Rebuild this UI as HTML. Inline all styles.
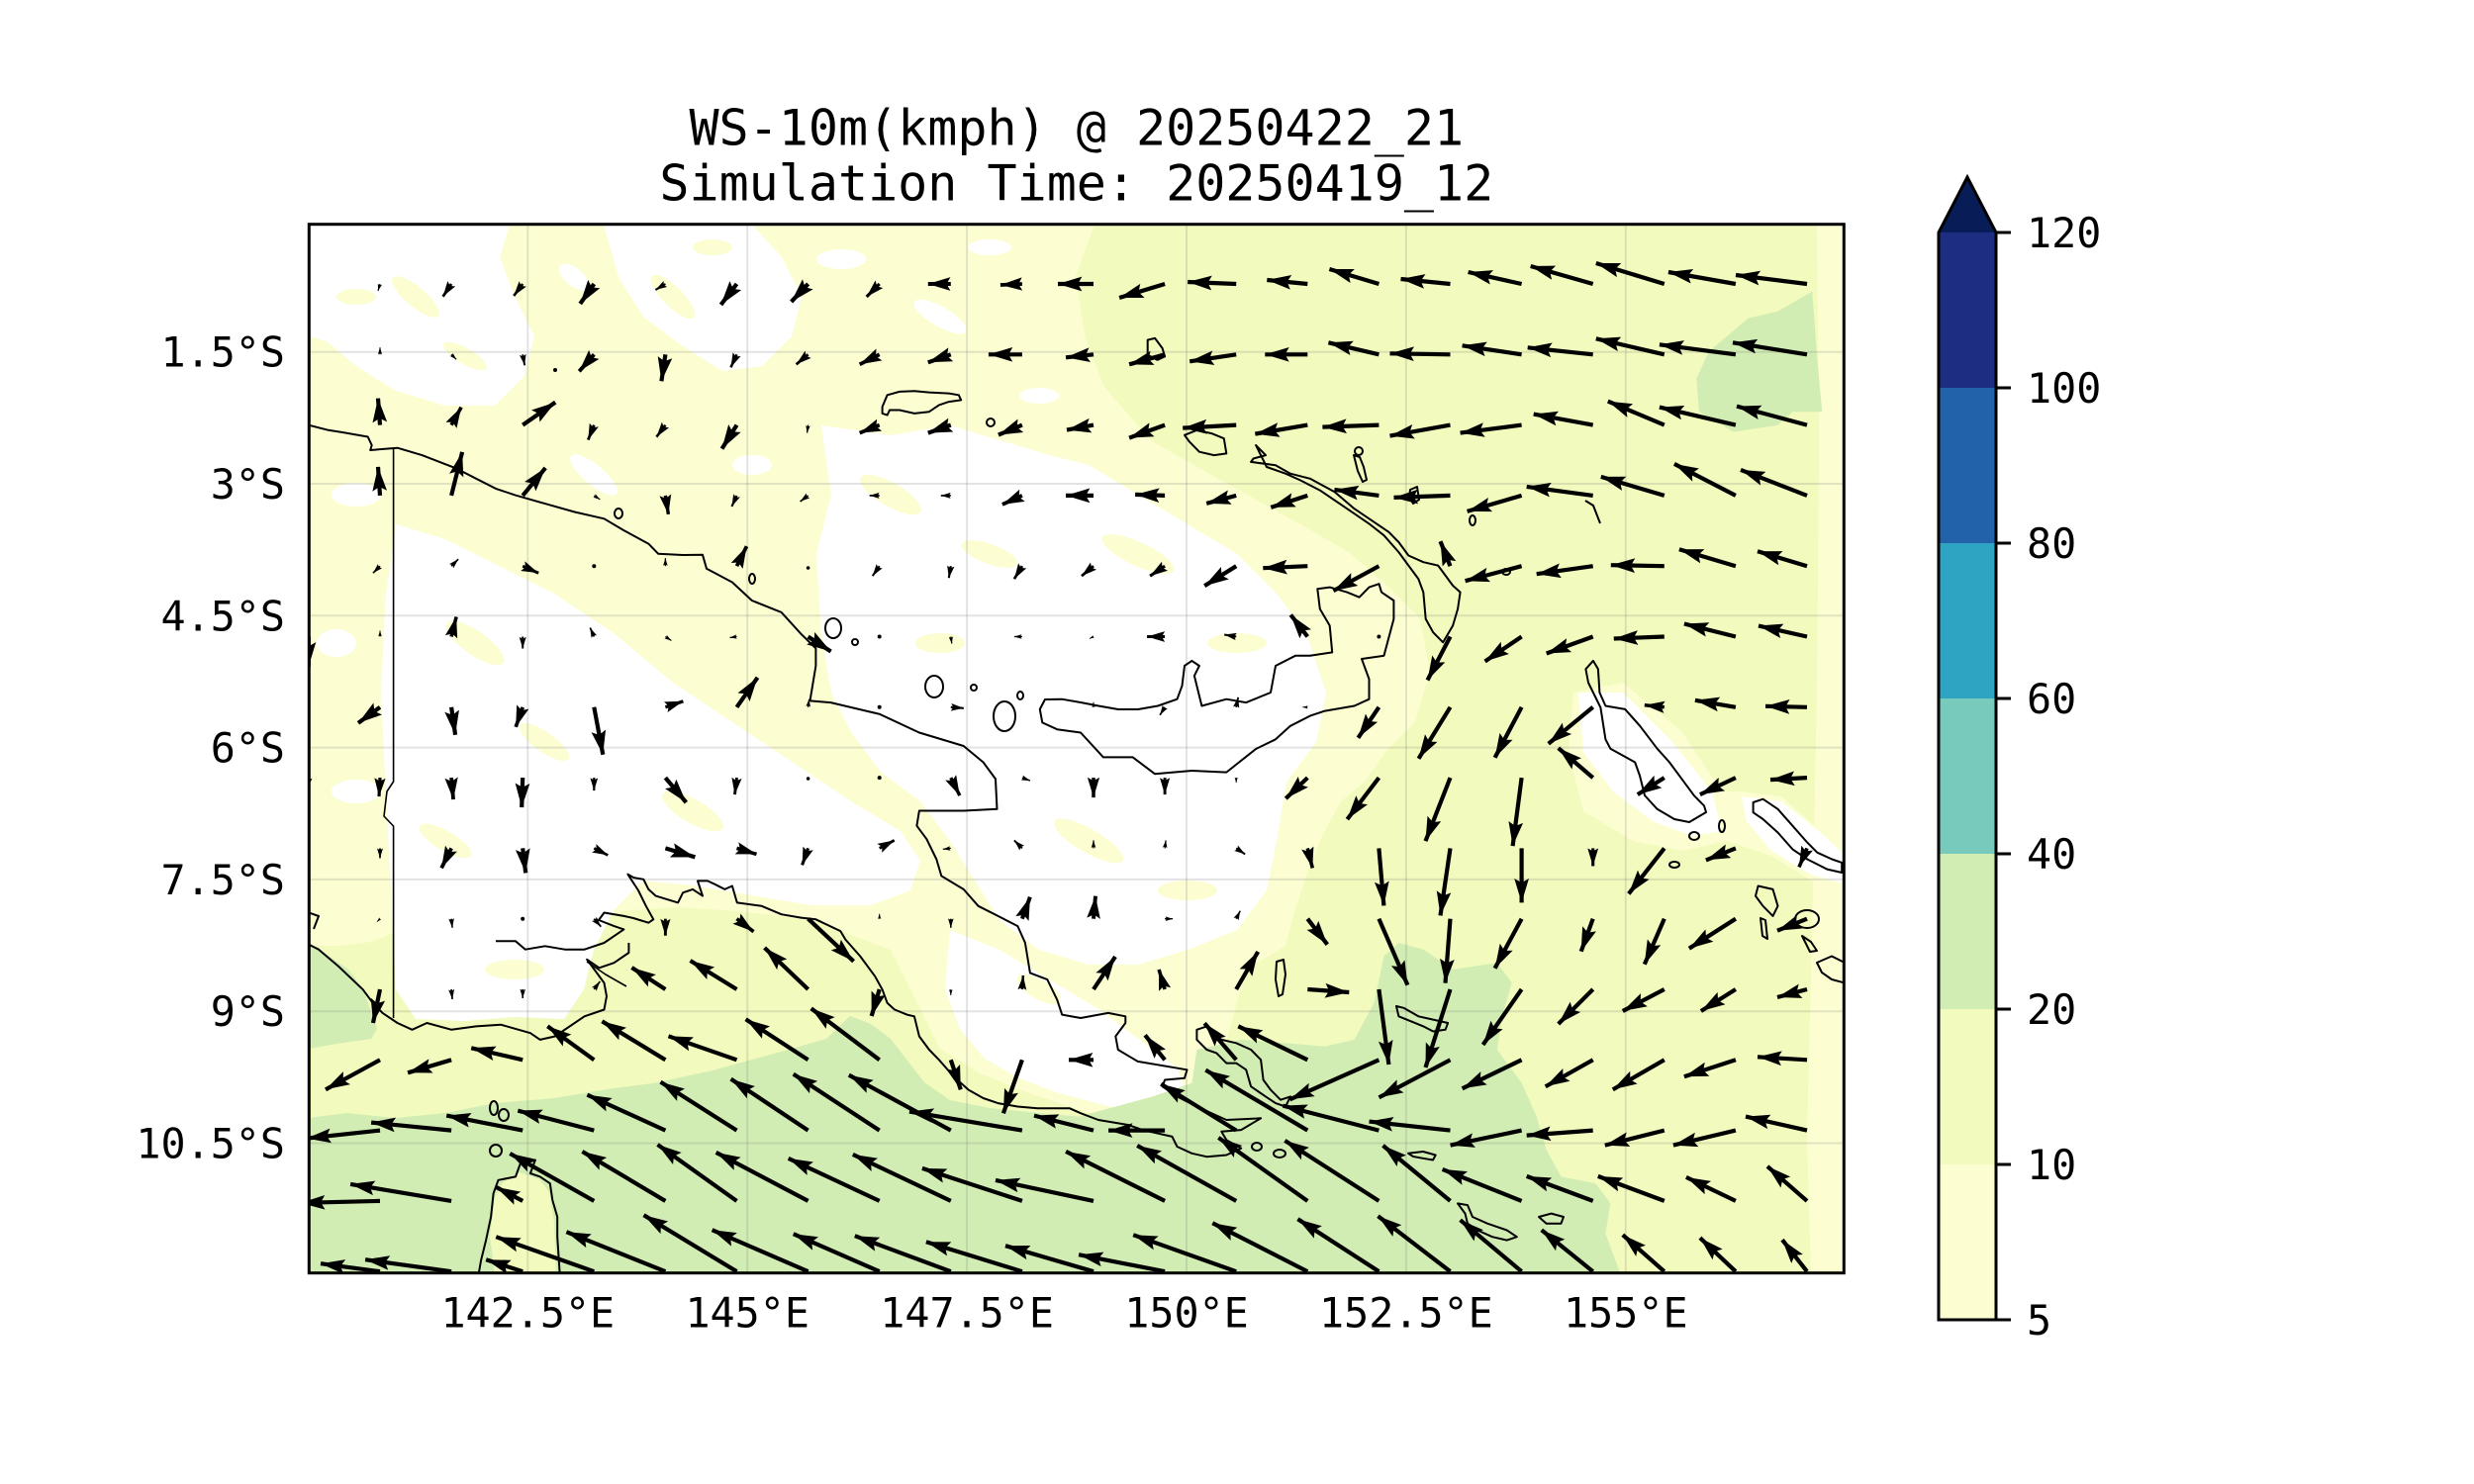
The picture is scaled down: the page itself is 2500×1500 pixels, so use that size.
<!DOCTYPE html>
<html><head><meta charset="utf-8"><style>html,body{margin:0;padding:0;background:#fff}svg{display:block}</style></head>
<body>
<svg width="2500" height="1500" viewBox="0 0 2500 1500" xmlns="http://www.w3.org/2000/svg">
<defs>
<clipPath id="pc"><rect x="312.3" y="226.7" width="1551" height="1060"/></clipPath>
<marker id="h" viewBox="0 -1.75 5.8 3.5" refX="5.8" refY="0" markerWidth="5.8" markerHeight="3.5" markerUnits="strokeWidth" orient="auto" overflow="visible"><path d="M5.8,0 L0,-1.75 L0.7,-0.5 L0.7,0.5 L0,1.75 Z" fill="#000" stroke="none"/></marker>
</defs>
<rect width="2500" height="1500" fill="#fff"/>
<g clip-path="url(#pc)">
<rect x="312.3" y="226.7" width="1551" height="1060" fill="#f2fabd"/>
<polygon fill="#fcfed2" points="312,227 1106,227 1087,279 1097,343 1116,391 1164,446 1235,486 1307,526 1363,558 1400,590 1435,625 1445,680 1430,730 1400,760 1379,790 1355,810 1336,845 1320,885 1307,925 1299,956 1259,980 1240,1050 1210,1110 1160,1135 1100,1125 1040,1105 990,1085 950,1060 925,1010 900,960 860,945 829,932 781,925 733,920 685,917 638,920 590,929 542,940 494,944 446,937 406,940 375,952 343,956 312,956"/>
<polygon fill="#fcfed2" points="1590,700 1640,690 1700,740 1740,800 1760,800 1800,805 1840,840 1863,860 1863,900 1830,890 1790,865 1745,850 1700,860 1650,850 1600,820 1585,760"/>
<polygon fill="#fcfed2" points="1836,227 1863,227 1863,1287 1830,1287 1826,1150 1832,900 1836,700 1838,450"/>
<polygon fill="#fcfed2" points="525,1180 545,1190 555,1200 560,1230 563,1287 500,1287 493,1250 498,1210 505,1192"/>
<g fill="#ffffff">
<polygon points="312,227 515,227 505,260 520,300 540,340 530,380 500,410 450,410 400,395 360,370 330,345 312,340"/>
<polygon points="610,227 760,227 790,260 810,300 800,340 770,370 730,375 690,350 650,320 625,280"/>
<polygon points="830,430 900,440 960,430 1010,445 1060,460 1100,470 1150,500 1200,530 1250,560 1290,600 1320,640 1340,700 1330,750 1300,790 1290,850 1280,900 1250,940 1200,960 1150,975 1100,975 1050,960 1010,930 985,890 960,850 930,810 890,780 860,740 840,700 830,640 825,560 840,500"/>
<polygon points="400,530 450,545 500,570 560,600 620,640 680,690 740,730 800,770 860,810 910,840 930,870 920,900 880,915 820,915 760,905 700,895 650,890 620,920 600,960 590,1000 570,1030 520,1028 470,1032 420,1030 400,1000 395,900 390,800 385,700 390,600"/>
<polygon points="960,940 1010,960 1060,990 1110,1020 1150,1050 1190,1080 1200,1110 1170,1125 1120,1118 1070,1105 1030,1090 995,1070 970,1040 955,1000"/>
<polygon points="1595,700 1640,700 1690,750 1730,800 1740,840 1710,845 1670,830 1630,800 1600,760"/>
<polygon points="1760,805 1800,810 1840,842 1862,862 1862,893 1830,884 1790,860 1765,830"/>
<ellipse cx="360" cy="500" rx="25" ry="12"/><ellipse cx="340" cy="650" rx="20" ry="14"/><ellipse cx="360" cy="800" rx="25" ry="12"/>
<ellipse cx="600" cy="480" rx="30" ry="10" transform="rotate(40 600 480)"/><ellipse cx="850" cy="262" rx="25" ry="10"/>
<ellipse cx="950" cy="320" rx="30" ry="10" transform="rotate(30 950 320)"/><ellipse cx="1050" cy="400" rx="20" ry="8"/><ellipse cx="760" cy="470" rx="20" ry="10"/>
<ellipse cx="580" cy="280" rx="18" ry="9" transform="rotate(40 580 280)"/><ellipse cx="1000" cy="250" rx="22" ry="8"/>
</g>
<g fill="#fcfed2">
<ellipse cx="420" cy="300" rx="30" ry="10" transform="rotate(40 420 300)"/><ellipse cx="470" cy="360" rx="25" ry="8" transform="rotate(30 470 360)"/><ellipse cx="360" cy="300" rx="20" ry="8"/>
<ellipse cx="680" cy="300" rx="30" ry="10" transform="rotate(45 680 300)"/><ellipse cx="720" cy="250" rx="20" ry="8"/>
<ellipse cx="900" cy="500" rx="35" ry="12" transform="rotate(30 900 500)"/><ellipse cx="1000" cy="560" rx="30" ry="10" transform="rotate(20 1000 560)"/>
<ellipse cx="1150" cy="560" rx="40" ry="12" transform="rotate(25 1150 560)"/><ellipse cx="1250" cy="650" rx="30" ry="10"/><ellipse cx="950" cy="650" rx="25" ry="10"/>
<ellipse cx="1100" cy="850" rx="40" ry="12" transform="rotate(30 1100 850)"/><ellipse cx="1200" cy="900" rx="30" ry="10"/>
<ellipse cx="480" cy="650" rx="35" ry="12" transform="rotate(35 480 650)"/><ellipse cx="550" cy="750" rx="30" ry="10" transform="rotate(35 550 750)"/>
<ellipse cx="450" cy="850" rx="30" ry="10" transform="rotate(30 450 850)"/><ellipse cx="700" cy="820" rx="35" ry="12" transform="rotate(30 700 820)"/>
<ellipse cx="520" cy="980" rx="30" ry="10"/><ellipse cx="1050" cy="1000" rx="25" ry="10" transform="rotate(30 1050 1000)"/>
</g>
<g fill="#d1edb3">
<polygon points="312,953 332,966 352,980 367,1000 374,1020 381,1040 375,1050 340,1055 312,1060"/>
<polygon points="312,1130 350,1125 400,1130 450,1125 500,1115 560,1110 620,1100 660,1095 720,1082 760,1071 800,1060 835,1050 859,1027 880,1035 900,1050 934,1094 960,1112 1000,1120 1050,1125 1090,1128.6 1164.6,1108.4 1204.4,1094.8 1209.4,1061 1254.2,1050.9 1299,1054.3 1338.8,1057.7 1368.6,1050.9 1388.5,1013.8 1398.5,966.5 1413.4,953 1438.3,959.7 1468.1,980 1512.9,973.2 1527.8,993.5 1517.9,1027.3 1512.9,1061 1537.8,1094.8 1552.7,1128.6 1562.6,1162.4 1577.6,1189.4 1612.4,1196.2 1627.3,1216.4 1622.4,1246.9 1637.3,1287 312,1287"/>
<polygon points="1766.6,321.6 1796.5,314.8 1831.3,294.6 1836.3,362.1 1841.3,416.2 1811.4,416.2 1796.5,429.7 1751.7,436.5 1716.9,416.2 1714.4,382.4 1726.8,355.4"/>
</g>
<polygon fill="#f2fabd" points="525,1185 545,1192 555,1205 560,1235 562,1287 500,1287 495,1250 500,1210 508,1195"/>
<g stroke="#808080" stroke-opacity="0.22" stroke-width="2">
<line x1="312" y1="355.7" x2="1864" y2="355.7"/><line x1="312" y1="489" x2="1864" y2="489"/><line x1="312" y1="622.3" x2="1864" y2="622.3"/><line x1="312" y1="755.6" x2="1864" y2="755.6"/><line x1="312" y1="888.9" x2="1864" y2="888.9"/><line x1="312" y1="1022.2" x2="1864" y2="1022.2"/><line x1="312" y1="1155.5" x2="1864" y2="1155.5"/>
<line x1="533.3" y1="227" x2="533.3" y2="1287"/><line x1="755.2" y1="227" x2="755.2" y2="1287"/><line x1="977.1" y1="227" x2="977.1" y2="1287"/><line x1="1199" y1="227" x2="1199" y2="1287"/><line x1="1420.9" y1="227" x2="1420.9" y2="1287"/><line x1="1642.8" y1="227" x2="1642.8" y2="1287"/>
</g>
<g fill="none" stroke="#000" stroke-width="2" stroke-linejoin="round">
<path d="M312,429.7 L331.9,434.8 L346.8,437.1 L371.7,441.5 L375.7,450 L374.2,455 L401.6,452.7 L426.4,460.1 L461.3,473.6 L481.2,483.8 L501,493.9 L520.9,500.6 L550.8,509.1 L580.7,517.5 L610.5,524.3 L630.4,536.1 L655.3,549.6 L665.2,559.8 L690,561 L710,560.8 L714,574.8 L739.9,588.5 L759.8,607 L789.6,618.9 L809.5,640.8 L824.4,655.4 L824.4,673 L818.5,708.4 L839.4,710.1 L889.1,721.9 L928.9,740.5 L973.7,754 L993.6,770.5 L1006,787.4 L1007.5,817.8 L973.7,819.5 L928.9,819.5 L926.4,834.7 L936.4,848.2 L946.3,868.5 L951.3,885.4 L973.7,898.9 L988.6,915.8 L1008.5,925.9 L1028.4,936.1 L1035.9,953 L1040.9,983.4 L1058.3,990.1 L1068.2,1010.4 L1073.2,1025.6 L1092,1029 L1119.9,1023.9 L1137.3,1027.3 L1137.3,1034 L1127.3,1047.5 L1129.8,1061 L1149.7,1072.9 L1199.5,1081.3 L1197,1089.8 L1177.1,1091.5 L1174.6,1098.2 L1189.5,1108.4 L1209.4,1118.5 L1239.3,1132 L1274.1,1130.3 L1254.2,1142.1 L1234.3,1143.8 L1239.3,1152.3 L1254.2,1160.7 L1239.3,1167.5 L1219.4,1169.2 L1204.4,1165.8 L1189.5,1159 L1184.5,1148.9 L1154.7,1142.1 L1139.8,1137 L1109.9,1132 L1092,1125.2 L1080.7,1120.2 L1048.3,1120.2 L1028.4,1118.5 L1008.5,1115.1 L993.6,1110 L978.7,1101.6 L963.7,1088.1 L948.8,1071.2 L938.9,1061 L928.9,1047.5 L923.9,1027.3 L916.5,1025.6 L904,1020.5 L896.6,1013.8 L891.6,1000.2 L884.1,986.7 L869.2,966.5 L854.3,949.6 L849.3,941.1 L824.4,929.3 L809.5,927.6 L789.6,924.2 L769.7,915.8 L744.8,912.4 L739.9,895.5 L732.4,898.9 L722.4,893.8 L715,890.4 L705,890.4 L710,905.6 L700,898.9 L690.1,902.3 L685.1,912.4 L662.7,905.6 L655.3,898.9 L650.3,888.8 L640.4,887.1 L634.4,883.7 L645,900 L652.8,915.8 L660.3,929.3 L655.3,932.7 L640,928 L630.4,925.9 L610.5,922.5 L605,930 L620.5,936.1 L630.4,939.4 L620.5,946.2 L610.5,953 L590.6,959.7 L570.7,959.7 L550.8,956.3 L530.9,959.7 L521,951.3 L501,951.3"/>
<path d="M635.4,953 L635.4,963 L620.5,973.2 L605.5,978.3 L593.1,969.8 L610.5,993.5 L613,1007 L610.5,1020.5 L590.6,1027.3 L560.8,1047.5 L545.8,1050.9 L535.9,1044.2 L506,1035.7 L481.2,1037.4 L456.3,1040.8 L431.4,1034 L416.5,1040.8 L401.6,1034 L386.6,1023.9 L376.7,1013.8 L366.7,1000.2 L341.9,976.6 L322,959.7 L312,954.6"/>
<path d="M593,972 L612,985 L633,997" stroke-width="1.6"/>
<path d="M312,922.5 L322,926 L317,939"/>
<path d="M397.6,452.7 L397.6,790 L391,800 L388,825 L397.6,835 L397.6,1029" stroke-width="1.6"/>
<path d="M1056,707 L1073,706.7 L1092,710 L1110,713.5 L1130,717 L1150,717 L1170,713.5 L1189.5,706.7 L1194.5,693.2 L1197,672.9 L1204.4,667.9 L1211.9,673 L1206.9,683.1 L1214.4,713.5 L1239.3,706.7 L1259.2,710.1 L1284,700 L1289,673 L1308.9,662.8 L1323.8,662.8 L1346.2,659.4 L1343.7,632.4 L1333.8,615.5 L1331.3,595.2 L1343.7,593.6 L1361.1,598.6 L1373.6,603.7 L1383.5,593.6 L1393.5,590.2 L1396,598.6 L1408.4,607 L1408.4,625.6 L1398.5,662.8 L1376,666 L1383.5,686.5 L1383.5,706.7 L1368.6,713.5 L1338.8,718.6 L1323.8,723.6 L1303.9,733.8 L1289,747.3 L1269.1,757 L1239.3,780.6 L1204.4,779 L1167.1,782.3 L1144.7,765.4 L1114.9,765.4 L1092,740.5 L1068.2,737.2 L1053.3,730.4 L1050.8,716.9 Z"/>
<path d="M1269.1,450 L1279,460.1 L1266.6,463.5 L1264.1,466.9 L1289,470.2 L1303.9,478.7 L1323.8,483.8 L1348.7,497.3 L1368.6,514.2 L1388.5,527.7 L1403.4,537.8 L1413.4,548 L1423.3,561.5 L1438.3,568.2 L1453.2,571.6 L1468.1,591.9 L1475.6,598.6 L1473.1,615.5 L1468.1,632.4 L1458.2,649.3 L1448.2,639.2 L1440.7,625.6 L1438.3,598.6 L1433.3,585.1 L1423.3,571.6 L1413.4,558.1 L1398.5,541.2 L1383.5,529.4 L1368.6,519.2 L1353.7,509.1 L1333.8,495.6 L1313.9,485.4 L1299,478.7 L1280,472 Z"/>
<path d="M1197,439.8 L1209.4,434.8 L1224.3,438.1 L1236.8,443.2 L1239.3,458.4 L1226.8,460.1 L1211.9,456.7 L1202,446.6 Z"/>
<path d="M1159.7,343.6 L1167.1,341.9 L1174.6,352 L1177.1,360.4 L1169.6,363.8 L1159.7,358.8 Z"/>
<path d="M891.6,411.1 L896.6,399.3 L909,395.9 L924,395.2 L938.9,396.6 L958.8,397.6 L968.8,399.3 L971.2,404.4 L958.8,406.1 L948.9,409.4 L938.9,416.2 L924,417.9 L909,414.5 L899,414.5 L896.6,419.6 L891.6,417.9 Z"/>
<path d="M1368,460 L1374,462 L1378,472 L1381,485 L1377,487 L1372,476 Z"/>
<path d="M1425,495 L1432,492 L1434,505 L1428,509 L1424,502 Z"/>
<path d="M1602,506 L1610,511 L1617,529"/>
<path d="M1609.9,667.9 L1614.9,676.3 L1616.4,700 L1622.4,713.5 L1642.2,716.9 L1657.2,733.8 L1674.6,756.7 L1687,770.5 L1702,790.8 L1712,804.3 L1722,814.4 L1724,821 L1707,831 L1692,828 L1674.6,817.8 L1662,804 L1657,784 L1652.2,770.5 L1627.3,756.7 L1622.4,747.3 L1617.4,715.2 L1605,690 L1602.4,676.3 Z"/>
<path d="M1771.6,811 L1781.5,807.7 L1796.5,817.8 L1811.4,834.7 L1826.3,851.6 L1836.3,861.7 L1851.2,868.5 L1861.2,871.9 L1861.2,882 L1846.3,878.6 L1826.3,868.5 L1811.4,858.4 L1796.5,841.5 L1781.5,828 L1771.6,821.2 Z"/>
<path d="M1864,973 L1851,966.5 L1836,973 L1841,983 L1851,990 L1864,993.5"/>
<path d="M1776.6,895.5 L1791.5,898.9 L1796.5,915.8 L1791.5,925.9 L1781.5,915.8 L1774,905.6 Z"/>
<path d="M1779,928 L1784,930 L1786,949 L1781,946 Z"/>
<path d="M1821,946 L1830,952 L1836,961 L1829,962 Z"/>
<path d="M1411,1017 L1418.4,1018.8 L1433.3,1027.3 L1448.2,1030.6 L1463.1,1034 L1460.6,1040.8 L1448.2,1042.5 L1438.3,1037.4 L1425.8,1032.3 L1413.4,1027.3 Z"/>
<path d="M1290,972 L1297,970 L1299,985 L1296,1005 L1292,1007 L1289,990 Z"/>
<path d="M1209.4,1040.8 L1219.4,1037.4 L1234.3,1050.9 L1249.2,1054.3 L1264.1,1061 L1274.1,1071.2 L1276.6,1091.5 L1284,1101.6 L1294,1111.7 L1304,1108.4 L1299,1118.5 L1289,1115.1 L1279,1108.4 L1264.1,1098.2 L1259.2,1081.3 L1249.2,1074.6 L1239.3,1074.6 L1229.3,1064.4 L1219.4,1061 L1209.4,1050.9 Z"/>
<path d="M1423,1165.8 L1438,1164 L1450.7,1167.5 L1448,1172.5 L1438,1170.8 L1428,1169 Z"/>
<path d="M1473,1216.4 L1483,1218.1 L1488,1230 L1503,1236.7 L1522.8,1243.5 L1532.8,1250.2 L1522.8,1253.6 L1508,1250.2 L1493,1243.5 L1483,1236.7 L1480.5,1226.6 Z"/>
<path d="M1555,1230 L1567.6,1226.6 L1580,1230 L1577.5,1236.7 L1562.6,1236.7 Z"/>
<path d="M483.6,1288 L486.1,1273.9 L491.1,1253.6 L496.1,1230 L498.6,1206.3 L503.5,1192.8 L521,1189.4 L525.9,1175.9 L530.9,1175.9 L540.9,1172.5 L535.9,1186 L545.8,1189.4 L555.8,1196.2 L558.3,1213.1 L563.2,1230 L563.2,1250.2 L565.7,1288"/>
<ellipse cx="501" cy="1163" rx="6" ry="6"/><ellipse cx="499" cy="1120" rx="4" ry="7"/><ellipse cx="509" cy="1127" rx="5" ry="6"/>
<ellipse cx="625" cy="519" rx="4" ry="5"/><ellipse cx="760" cy="585" rx="3" ry="5"/><ellipse cx="842" cy="635" rx="8" ry="10"/><ellipse cx="864" cy="649" rx="3" ry="3"/>
<ellipse cx="944" cy="694" rx="9" ry="11"/><ellipse cx="984" cy="695" rx="3" ry="3"/><ellipse cx="1031" cy="703" rx="3" ry="4"/><ellipse cx="1015" cy="724" rx="11" ry="15"/>
<ellipse cx="1001" cy="427" rx="4" ry="4"/><ellipse cx="1373" cy="456" rx="4" ry="4"/><ellipse cx="1488" cy="526" rx="3" ry="5"/><ellipse cx="1522" cy="578" rx="4" ry="3"/>
<ellipse cx="1826" cy="929" rx="12" ry="9"/><ellipse cx="1712" cy="845" rx="5" ry="4"/><ellipse cx="1740" cy="835" rx="3" ry="6"/><ellipse cx="1692" cy="874" rx="5" ry="3"/>
<ellipse cx="1270" cy="1159" rx="5" ry="4"/><ellipse cx="1293" cy="1166" rx="6" ry="4"/>
</g>
<circle cx="561" cy="374" r="2" fill="#000"/>
<g stroke="#000" stroke-width="4.2" marker-end="url(#h)" fill="none">
<g transform="translate(0 287)">
<line transform="translate(384)" x2="-2" y2="7" stroke-width="1.2"/>
<line transform="translate(456.1)" x2="-8.5" y2="12.8" stroke-width="2.7"/>
<line transform="translate(528.2)" x2="-9" y2="12" stroke-width="2.6"/>
<line transform="translate(600.3)" x2="-14" y2="20"/>
<line transform="translate(672.4)" x2="-10" y2="6" stroke-width="2"/>
<line transform="translate(744.5)" x2="-16" y2="21"/>
<line transform="translate(816.6)" x2="-17" y2="18"/>
<line transform="translate(888.7)" x2="-13" y2="13" stroke-width="3.1"/>
<line transform="translate(960.8)" x2="-23" y2="0" stroke-width="3.9"/>
<line transform="translate(1032.9)" x2="-22" y2="1" stroke-width="3.8"/>
<line transform="translate(1105)" x2="-36" y2="0"/>
<line transform="translate(1177.1)" x2="-46" y2="14"/>
<line transform="translate(1249.2)" x2="-49" y2="-2"/>
<line transform="translate(1321.3)" x2="-41" y2="-4"/>
<line transform="translate(1393.4)" x2="-50" y2="-15"/>
<line transform="translate(1465.5)" x2="-50" y2="-5"/>
<line transform="translate(1537.6)" x2="-54" y2="-12"/>
<line transform="translate(1609.7)" x2="-63" y2="-18"/>
<line transform="translate(1681.8)" x2="-69" y2="-21"/>
<line transform="translate(1753.9)" x2="-68" y2="-12"/>
<line transform="translate(1826)" x2="-72" y2="-9"/>
</g>
<g transform="translate(0 358.3)">
<line transform="translate(384)" x2="0" y2="-7" stroke-width="1.2"/>
<line transform="translate(456.1)" x2="5" y2="5" stroke-width="1.2"/>
<line transform="translate(528.2)" x2="2" y2="11" stroke-width="1.9"/>
<line transform="translate(600.3)" x2="-15" y2="17" stroke-width="3.9"/>
<line transform="translate(672.4)" x2="-4" y2="27"/>
<line transform="translate(744.5)" x2="-6" y2="13" stroke-width="2.5"/>
<line transform="translate(816.6)" x2="-12" y2="10" stroke-width="2.7"/>
<line transform="translate(888.7)" x2="-20" y2="10" stroke-width="3.8"/>
<line transform="translate(960.8)" x2="-23" y2="8"/>
<line transform="translate(1032.9)" x2="-34" y2="0"/>
<line transform="translate(1105)" x2="-28" y2="3"/>
<line transform="translate(1177.1)" x2="-36" y2="10"/>
<line transform="translate(1249.2)" x2="-47" y2="7"/>
<line transform="translate(1321.3)" x2="-43" y2="0"/>
<line transform="translate(1393.4)" x2="-51" y2="-12"/>
<line transform="translate(1465.5)" x2="-61" y2="-1"/>
<line transform="translate(1537.6)" x2="-60" y2="-9"/>
<line transform="translate(1609.7)" x2="-66" y2="-7"/>
<line transform="translate(1681.8)" x2="-69" y2="-16"/>
<line transform="translate(1753.9)" x2="-77" y2="-10"/>
<line transform="translate(1826)" x2="-75" y2="-12"/>
</g>
<g transform="translate(0 429.6)">
<line transform="translate(384)" x2="-2" y2="-27"/>
<line transform="translate(456.1)" x2="10" y2="-18" stroke-width="3.6"/>
<line transform="translate(528.2)" x2="33" y2="-23"/>
<line transform="translate(600.3)" x2="-6" y2="15" stroke-width="2.8"/>
<line transform="translate(672.4)" x2="-9" y2="12" stroke-width="2.6"/>
<line transform="translate(744.5)" x2="-15" y2="24"/>
<line transform="translate(816.6)" x2="-1" y2="8" stroke-width="1.3"/>
<line transform="translate(888.7)" x2="-20" y2="8" stroke-width="3.7"/>
<line transform="translate(960.8)" x2="-23" y2="8"/>
<line transform="translate(1032.9)" x2="-24" y2="10"/>
<line transform="translate(1105)" x2="-27" y2="5"/>
<line transform="translate(1177.1)" x2="-36" y2="13"/>
<line transform="translate(1249.2)" x2="-54" y2="3"/>
<line transform="translate(1321.3)" x2="-53" y2="9"/>
<line transform="translate(1393.4)" x2="-57" y2="2"/>
<line transform="translate(1465.5)" x2="-61" y2="11"/>
<line transform="translate(1537.6)" x2="-62" y2="8"/>
<line transform="translate(1609.7)" x2="-60" y2="-11"/>
<line transform="translate(1681.8)" x2="-57" y2="-24"/>
<line transform="translate(1753.9)" x2="-77" y2="-18"/>
<line transform="translate(1826)" x2="-71" y2="-19"/>
</g>
<g transform="translate(0 500.9)">
<line transform="translate(384)" x2="-2" y2="-29"/>
<line transform="translate(456.1)" x2="11" y2="-44"/>
<line transform="translate(528.2)" x2="23" y2="-28"/>
<line transform="translate(600.3)" x2="6" y2="4" stroke-width="1.2"/>
<line transform="translate(672.4)" x2="3" y2="19" stroke-width="3.4"/>
<line transform="translate(744.5)" x2="-5" y2="11" stroke-width="2.1"/>
<line transform="translate(816.6)" x2="-8" y2="6" stroke-width="1.7"/>
<line transform="translate(888.7)" x2="-10" y2="0" stroke-width="1.7"/>
<line transform="translate(960.8)" x2="-10" y2="0" stroke-width="1.7"/>
<line transform="translate(1032.9)" x2="-20" y2="9" stroke-width="3.8"/>
<line transform="translate(1105)" x2="-28" y2="0"/>
<line transform="translate(1177.1)" x2="-30" y2="-1"/>
<line transform="translate(1249.2)" x2="-30" y2="8"/>
<line transform="translate(1321.3)" x2="-37" y2="12"/>
<line transform="translate(1393.4)" x2="-45" y2="-6"/>
<line transform="translate(1465.5)" x2="-57" y2="2"/>
<line transform="translate(1537.6)" x2="-55" y2="16"/>
<line transform="translate(1609.7)" x2="-67" y2="-9"/>
<line transform="translate(1681.8)" x2="-64" y2="-19"/>
<line transform="translate(1753.9)" x2="-62" y2="-32"/>
<line transform="translate(1826)" x2="-67" y2="-26"/>
</g>
<g transform="translate(0 572.2)">
<line transform="translate(384)" x2="-7" y2="7" stroke-width="1.7"/>
<line transform="translate(456.1)" x2="7" y2="-7" stroke-width="1.7"/>
<line transform="translate(528.2)" x2="16" y2="7" stroke-width="3"/>
<line transform="translate(672.4)" x2="0" y2="-8" stroke-width="1.3"/>
<line transform="translate(744.5)" x2="10" y2="-20" stroke-width="3.8"/>
<line transform="translate(888.7)" x2="-7" y2="10" stroke-width="2.1"/>
<line transform="translate(960.8)" x2="-2" y2="12" stroke-width="2.1"/>
<line transform="translate(1032.9)" x2="-8" y2="13" stroke-width="2.7"/>
<line transform="translate(1105)" x2="-12" y2="10" stroke-width="2.7"/>
<line transform="translate(1177.1)" x2="-15" y2="10" stroke-width="3.1"/>
<line transform="translate(1249.2)" x2="-32" y2="20"/>
<line transform="translate(1321.3)" x2="-45" y2="2"/>
<line transform="translate(1393.4)" x2="-46" y2="25"/>
<line transform="translate(1465.5)" x2="-10" y2="-25"/>
<line transform="translate(1537.6)" x2="-57" y2="15"/>
<line transform="translate(1609.7)" x2="-57" y2="8"/>
<line transform="translate(1681.8)" x2="-54" y2="-1"/>
<line transform="translate(1753.9)" x2="-57" y2="-17"/>
<line transform="translate(1826)" x2="-50" y2="-15"/>
</g>
<g transform="translate(0 643.5)">
<line transform="translate(311.9)" x2="0" y2="30"/>
<line transform="translate(384)" x2="0" y2="-6" stroke-width="1"/>
<line transform="translate(456.1)" x2="5" y2="-20" stroke-width="3.6"/>
<line transform="translate(528.2)" x2="0" y2="12" stroke-width="2"/>
<line transform="translate(600.3)" x2="-4" y2="-9" stroke-width="1.7"/>
<line transform="translate(672.4)" x2="6" y2="4" stroke-width="1.2"/>
<line transform="translate(744.5)" x2="-7" y2="1" stroke-width="1.2"/>
<line transform="translate(816.6)" x2="23" y2="15"/>
<line transform="translate(960.8)" x2="1" y2="7" stroke-width="1.2"/>
<line transform="translate(1032.9)" x2="-8" y2="0" stroke-width="1.3"/>
<line transform="translate(1105)" x2="-4" y2="2" stroke-width="0.8"/>
<line transform="translate(1177.1)" x2="-18" y2="0" stroke-width="3.1"/>
<line transform="translate(1249.2)" x2="-12" y2="-2" stroke-width="2.1"/>
<line transform="translate(1321.3)" x2="-17" y2="-22"/>
<line transform="translate(1465.5)" x2="-23" y2="44"/>
<line transform="translate(1537.6)" x2="-37" y2="25"/>
<line transform="translate(1609.7)" x2="-47" y2="17"/>
<line transform="translate(1681.8)" x2="-51" y2="2"/>
<line transform="translate(1753.9)" x2="-52" y2="-13"/>
<line transform="translate(1826)" x2="-49" y2="-11"/>
</g>
<g transform="translate(0 714.8)">
<line transform="translate(384)" x2="-22" y2="16"/>
<line transform="translate(456.1)" x2="4" y2="28"/>
<line transform="translate(528.2)" x2="-7" y2="20" stroke-width="3.7"/>
<line transform="translate(600.3)" x2="9" y2="48"/>
<line transform="translate(672.4)" x2="18" y2="-6" stroke-width="3.2"/>
<line transform="translate(744.5)" x2="21" y2="-30"/>
<line transform="translate(816.6)" x2="1" y2="-8" stroke-width="1.3"/>
<line transform="translate(960.8)" x2="13" y2="1" stroke-width="2.2"/>
<line transform="translate(1105)" x2="0" y2="-5" stroke-width="0.9"/>
<line transform="translate(1177.1)" x2="-5" y2="8" stroke-width="1.7"/>
<line transform="translate(1249.2)" x2="2" y2="-10" stroke-width="1.8"/>
<line transform="translate(1321.3)" x2="-5" y2="0" stroke-width="0.9"/>
<line transform="translate(1393.4)" x2="-21" y2="31"/>
<line transform="translate(1465.5)" x2="-32" y2="52"/>
<line transform="translate(1537.6)" x2="-27" y2="51"/>
<line transform="translate(1609.7)" x2="-45" y2="37"/>
<line transform="translate(1681.8)" x2="-20" y2="-2" stroke-width="3.5"/>
<line transform="translate(1753.9)" x2="-41" y2="-7"/>
<line transform="translate(1826)" x2="-42" y2="-1"/>
</g>
<g transform="translate(0 786.1)">
<line transform="translate(311.9)" x2="-2" y2="12" stroke-width="2.1"/>
<line transform="translate(384)" x2="-1" y2="19" stroke-width="3.2"/>
<line transform="translate(456.1)" x2="2" y2="22" stroke-width="3.8"/>
<line transform="translate(528.2)" x2="-1" y2="30"/>
<line transform="translate(600.3)" x2="0" y2="13" stroke-width="2.2"/>
<line transform="translate(672.4)" x2="21" y2="25"/>
<line transform="translate(744.5)" x2="-2" y2="17" stroke-width="2.9"/>
<line transform="translate(960.8)" x2="9" y2="18" stroke-width="3.5"/>
<line transform="translate(1032.9)" x2="8" y2="3" stroke-width="1.5"/>
<line transform="translate(1105)" x2="0" y2="20" stroke-width="3.5"/>
<line transform="translate(1177.1)" x2="0" y2="17" stroke-width="2.9"/>
<line transform="translate(1249.2)" x2="0" y2="5" stroke-width="0.9"/>
<line transform="translate(1321.3)" x2="-22" y2="21"/>
<line transform="translate(1393.4)" x2="-32" y2="42"/>
<line transform="translate(1465.5)" x2="-25" y2="64"/>
<line transform="translate(1537.6)" x2="-9" y2="69"/>
<line transform="translate(1609.7)" x2="-35" y2="-30"/>
<line transform="translate(1681.8)" x2="-27" y2="17"/>
<line transform="translate(1753.9)" x2="-36" y2="17"/>
<line transform="translate(1826)" x2="-37" y2="2"/>
</g>
<g transform="translate(0 857.4)">
<line transform="translate(384)" x2="0" y2="10" stroke-width="1.7"/>
<line transform="translate(456.1)" x2="-10" y2="20" stroke-width="3.8"/>
<line transform="translate(528.2)" x2="3" y2="25"/>
<line transform="translate(600.3)" x2="14" y2="7" stroke-width="2.7"/>
<line transform="translate(672.4)" x2="30" y2="9"/>
<line transform="translate(744.5)" x2="20" y2="6" stroke-width="3.6"/>
<line transform="translate(816.6)" x2="-6" y2="17" stroke-width="3.1"/>
<line transform="translate(888.7)" x2="15" y2="-8" stroke-width="2.9"/>
<line transform="translate(960.8)" x2="-8" y2="1" stroke-width="1.3"/>
<line transform="translate(1032.9)" x2="-8" y2="-8" stroke-width="1.9"/>
<line transform="translate(1105)" x2="0" y2="-8" stroke-width="1.3"/>
<line transform="translate(1177.1)" x2="1" y2="-8" stroke-width="1.3"/>
<line transform="translate(1249.2)" x2="9" y2="6" stroke-width="1.9"/>
<line transform="translate(1321.3)" x2="5" y2="20" stroke-width="3.6"/>
<line transform="translate(1393.4)" x2="5" y2="58"/>
<line transform="translate(1465.5)" x2="-10" y2="68"/>
<line transform="translate(1537.6)" x2="0" y2="55"/>
<line transform="translate(1609.7)" x2="0" y2="18" stroke-width="3.1"/>
<line transform="translate(1681.8)" x2="-36" y2="46"/>
<line transform="translate(1753.9)" x2="-30" y2="12"/>
<line transform="translate(1826)" x2="-8" y2="19" stroke-width="3.6"/>
</g>
<g transform="translate(0 928.7)">
<line transform="translate(384)" x2="-3" y2="3" stroke-width="0.8"/>
<line transform="translate(456.1)" x2="1" y2="9" stroke-width="1.6"/>
<line transform="translate(600.3)" x2="7" y2="8" stroke-width="1.8"/>
<line transform="translate(672.4)" x2="0" y2="17" stroke-width="2.9"/>
<line transform="translate(744.5)" x2="17" y2="13" stroke-width="3.7"/>
<line transform="translate(816.6)" x2="46" y2="43"/>
<line transform="translate(888.7)" x2="0" y2="-5" stroke-width="0.9"/>
<line transform="translate(960.8)" x2="0" y2="9" stroke-width="1.6"/>
<line transform="translate(1032.9)" x2="8" y2="-22" stroke-width="4"/>
<line transform="translate(1105)" x2="2" y2="-23" stroke-width="3.9"/>
<line transform="translate(1177.1)" x2="8" y2="0" stroke-width="1.3"/>
<line transform="translate(1249.2)" x2="4" y2="-8" stroke-width="1.6"/>
<line transform="translate(1321.3)" x2="20" y2="26"/>
<line transform="translate(1393.4)" x2="29" y2="67"/>
<line transform="translate(1465.5)" x2="-5" y2="65"/>
<line transform="translate(1537.6)" x2="-27" y2="50"/>
<line transform="translate(1609.7)" x2="-12" y2="33"/>
<line transform="translate(1681.8)" x2="-20" y2="46"/>
<line transform="translate(1753.9)" x2="-47" y2="30"/>
<line transform="translate(1826)" x2="-30" y2="12"/>
</g>
<g transform="translate(0 1000)">
<line transform="translate(384)" x2="-7" y2="34"/>
<line transform="translate(456.1)" x2="1" y2="10" stroke-width="1.7"/>
<line transform="translate(528.2)" x2="0" y2="9" stroke-width="1.6"/>
<line transform="translate(600.3)" x2="6" y2="-8" stroke-width="1.7"/>
<line transform="translate(672.4)" x2="-34" y2="-22"/>
<line transform="translate(744.5)" x2="-47" y2="-29"/>
<line transform="translate(816.6)" x2="-44" y2="-42"/>
<line transform="translate(888.7)" x2="-8" y2="27"/>
<line transform="translate(960.8)" x2="0" y2="6" stroke-width="1"/>
<line transform="translate(1032.9)" x2="1" y2="-14" stroke-width="2.5"/>
<line transform="translate(1105)" x2="22" y2="-33"/>
<line transform="translate(1177.1)" x2="-6" y2="-20" stroke-width="3.6"/>
<line transform="translate(1249.2)" x2="22" y2="-38"/>
<line transform="translate(1321.3)" x2="42" y2="3"/>
<line transform="translate(1393.4)" x2="10" y2="76"/>
<line transform="translate(1465.5)" x2="-25" y2="79"/>
<line transform="translate(1537.6)" x2="-39" y2="56"/>
<line transform="translate(1609.7)" x2="-35" y2="35"/>
<line transform="translate(1681.8)" x2="-42" y2="22"/>
<line transform="translate(1753.9)" x2="-35" y2="22"/>
<line transform="translate(1826)" x2="-30" y2="8"/>
</g>
<g transform="translate(0 1071.3)">
<line transform="translate(384)" x2="-55" y2="30"/>
<line transform="translate(456.1)" x2="-44" y2="13"/>
<line transform="translate(528.2)" x2="-52" y2="-12"/>
<line transform="translate(600.3)" x2="-47" y2="-34"/>
<line transform="translate(672.4)" x2="-64" y2="-39"/>
<line transform="translate(744.5)" x2="-69" y2="-24"/>
<line transform="translate(816.6)" x2="-63" y2="-41"/>
<line transform="translate(888.7)" x2="-69" y2="-52"/>
<line transform="translate(960.8)" x2="10" y2="30"/>
<line transform="translate(1032.9)" x2="-19" y2="54"/>
<line transform="translate(1105)" x2="-25" y2="0"/>
<line transform="translate(1177.1)" x2="-20" y2="-25"/>
<line transform="translate(1249.2)" x2="-32" y2="-37"/>
<line transform="translate(1321.3)" x2="-70" y2="-34"/>
<line transform="translate(1393.4)" x2="-90" y2="40"/>
<line transform="translate(1465.5)" x2="-72" y2="38"/>
<line transform="translate(1537.6)" x2="-60" y2="29"/>
<line transform="translate(1609.7)" x2="-48" y2="27"/>
<line transform="translate(1681.8)" x2="-52" y2="30"/>
<line transform="translate(1753.9)" x2="-52" y2="17"/>
<line transform="translate(1826)" x2="-50" y2="-3"/>
</g>
<g transform="translate(0 1142.6)">
<line transform="translate(384)" x2="-74" y2="8"/>
<line transform="translate(456.1)" x2="-81" y2="-8"/>
<line transform="translate(528.2)" x2="-77" y2="-15"/>
<line transform="translate(600.3)" x2="-77" y2="-20"/>
<line transform="translate(672.4)" x2="-79" y2="-36"/>
<line transform="translate(744.5)" x2="-77" y2="-49"/>
<line transform="translate(816.6)" x2="-78" y2="-52"/>
<line transform="translate(888.7)" x2="-87" y2="-57"/>
<line transform="translate(960.8)" x2="-103" y2="-56"/>
<line transform="translate(1032.9)" x2="-114" y2="-19"/>
<line transform="translate(1105)" x2="-60" y2="-15"/>
<line transform="translate(1177.1)" x2="-57" y2="0"/>
<line transform="translate(1249.2)" x2="-76" y2="-47"/>
<line transform="translate(1321.3)" x2="-103" y2="-61"/>
<line transform="translate(1393.4)" x2="-97" y2="-25"/>
<line transform="translate(1465.5)" x2="-82" y2="-9"/>
<line transform="translate(1537.6)" x2="-72" y2="15"/>
<line transform="translate(1609.7)" x2="-67" y2="5"/>
<line transform="translate(1681.8)" x2="-60" y2="15"/>
<line transform="translate(1753.9)" x2="-63" y2="15"/>
<line transform="translate(1826)" x2="-62" y2="-14"/>
</g>
<g transform="translate(0 1213.9)">
<line transform="translate(384)" x2="-80" y2="2"/>
<line transform="translate(456.1)" x2="-102" y2="-17"/>
<line transform="translate(528.2)" x2="-27" y2="-14"/>
<line transform="translate(600.3)" x2="-85" y2="-48"/>
<line transform="translate(672.4)" x2="-84" y2="-50"/>
<line transform="translate(744.5)" x2="-80" y2="-57"/>
<line transform="translate(816.6)" x2="-93" y2="-49"/>
<line transform="translate(888.7)" x2="-92" y2="-43"/>
<line transform="translate(960.8)" x2="-99" y2="-47"/>
<line transform="translate(1032.9)" x2="-101" y2="-33"/>
<line transform="translate(1105)" x2="-99" y2="-21"/>
<line transform="translate(1177.1)" x2="-100" y2="-50"/>
<line transform="translate(1249.2)" x2="-100" y2="-56"/>
<line transform="translate(1321.3)" x2="-90" y2="-64"/>
<line transform="translate(1393.4)" x2="-95" y2="-61"/>
<line transform="translate(1465.5)" x2="-68" y2="-56"/>
<line transform="translate(1537.6)" x2="-80" y2="-32"/>
<line transform="translate(1609.7)" x2="-67" y2="-25"/>
<line transform="translate(1681.8)" x2="-67" y2="-25"/>
<line transform="translate(1753.9)" x2="-50" y2="-24"/>
<line transform="translate(1826)" x2="-40" y2="-35"/>
</g>
<g transform="translate(0 1285.2)">
<line transform="translate(384)" x2="-60" y2="-8"/>
<line transform="translate(456.1)" x2="-87" y2="-12"/>
<line transform="translate(528.2)" x2="-37" y2="-12"/>
<line transform="translate(600.3)" x2="-99" y2="-35"/>
<line transform="translate(672.4)" x2="-100" y2="-40"/>
<line transform="translate(744.5)" x2="-94" y2="-57"/>
<line transform="translate(816.6)" x2="-97" y2="-42"/>
<line transform="translate(888.7)" x2="-87" y2="-38"/>
<line transform="translate(960.8)" x2="-97" y2="-36"/>
<line transform="translate(1032.9)" x2="-97" y2="-30"/>
<line transform="translate(1105)" x2="-89" y2="-26"/>
<line transform="translate(1177.1)" x2="-87" y2="-17"/>
<line transform="translate(1249.2)" x2="-104" y2="-37"/>
<line transform="translate(1321.3)" x2="-96" y2="-49"/>
<line transform="translate(1393.4)" x2="-82" y2="-53"/>
<line transform="translate(1465.5)" x2="-73" y2="-56"/>
<line transform="translate(1537.6)" x2="-62" y2="-52"/>
<line transform="translate(1609.7)" x2="-52" y2="-42"/>
<line transform="translate(1681.8)" x2="-42" y2="-37"/>
<line transform="translate(1753.9)" x2="-36" y2="-34"/>
<line transform="translate(1826)" x2="-25" y2="-32"/>
</g>
</g>
<g fill="#000">
<circle cx="600.3" cy="572.2" r="2"/><circle cx="816.6" cy="574" r="1.8"/><circle cx="888.7" cy="643.5" r="2"/><circle cx="1393.4" cy="643.5" r="2"/><circle cx="888.7" cy="714.8" r="2"/><circle cx="816.6" cy="787" r="1.8"/><circle cx="888.7" cy="786.1" r="2"/><circle cx="528.2" cy="928.7" r="2"/>
</g>
</g>
<rect x="312.3" y="226.7" width="1551" height="1060" fill="none" stroke="#000" stroke-width="3"/>
<g font-family="'DejaVu Sans Mono', 'Liberation Mono', monospace" font-size="41.7" fill="#000">
<g text-anchor="end">
<text x="288" y="370.7">1.5°S</text>
<text x="288" y="504">3°S</text>
<text x="288" y="637.3">4.5°S</text>
<text x="288" y="770.6">6°S</text>
<text x="288" y="903.9">7.5°S</text>
<text x="288" y="1037.2">9°S</text>
<text x="288" y="1170.5">10.5°S</text>
</g>
<g text-anchor="middle">
<text x="533.3" y="1341.7">142.5°E</text>
<text x="755.2" y="1341.7">145°E</text>
<text x="977.1" y="1341.7">147.5°E</text>
<text x="1199" y="1341.7">150°E</text>
<text x="1420.9" y="1341.7">152.5°E</text>
<text x="1642.8" y="1341.7">155°E</text>
</g>
<text x="2048" y="250">120</text>
<text x="2048" y="407">100</text>
<text x="2048" y="564">80</text>
<text x="2048" y="721">60</text>
<text x="2048" y="878">40</text>
<text x="2048" y="1035">20</text>
<text x="2048" y="1192">10</text>
<text x="2048" y="1349">5</text>
</g>
<rect x="1959" y="235" width="58" height="157" fill="#1c2d82"/>
<rect x="1959" y="392" width="58" height="157" fill="#2262aa"/>
<rect x="1959" y="549" width="58" height="157" fill="#2ea3c2"/>
<rect x="1959" y="706" width="58" height="157" fill="#77cabc"/>
<rect x="1959" y="863" width="58" height="157" fill="#d1edb3"/>
<rect x="1959" y="1020" width="58" height="157" fill="#f2fabd"/>
<rect x="1959" y="1177" width="58" height="157" fill="#fcfed2"/>
<polygon points="1959,235 2017,235 1988,179" fill="#081d58"/>
<path d="M1959,1334 L1959,235 L1988,179 L2017,235 L2017,1334 Z" fill="none" stroke="#000" stroke-width="3" stroke-linejoin="miter"/>
<g stroke="#000" stroke-width="3">
<line x1="2017" y1="235" x2="2032" y2="235"/><line x1="2017" y1="392" x2="2032" y2="392"/><line x1="2017" y1="549" x2="2032" y2="549"/><line x1="2017" y1="706" x2="2032" y2="706"/><line x1="2017" y1="863" x2="2032" y2="863"/><line x1="2017" y1="1020" x2="2032" y2="1020"/><line x1="2017" y1="1177" x2="2032" y2="1177"/><line x1="2017" y1="1334" x2="2032" y2="1334"/>
</g>
<g font-family="'DejaVu Sans Mono', 'Liberation Mono', monospace" font-size="50" fill="#000" text-anchor="middle">
<text x="1087.8" y="146.7">WS-10m(kmph) @ 20250422_21</text>
<text x="1087.8" y="202.7">Simulation Time: 20250419_12</text>
</g>
</svg>
</body></html>
